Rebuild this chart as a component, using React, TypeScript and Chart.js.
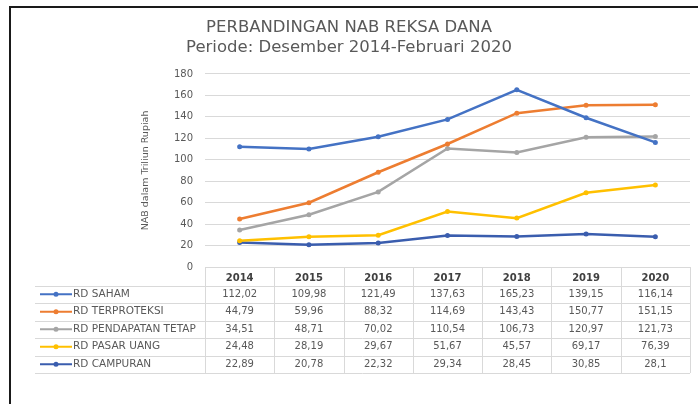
import React, { useEffect, useRef } from "react";
import { Chart, registerables } from "chart.js";

Chart.register(...registerables);

const years = ["2014", "2015", "2016", "2017", "2018", "2019", "2020"];
const seriesNames = ["RD SAHAM", "RD TERPROTEKSI", "RD PENDAPATAN TETAP", "RD PASAR UANG", "RD CAMPURAN"];
const saham = [112.02, 109.98, 121.49, 137.63, 165.23, 139.15, 116.14];
const terproteksi = [44.79, 59.96, 88.32, 114.69, 143.43, 150.77, 151.15];
const pendapatanTetap = [34.51, 48.71, 70.02, 110.54, 106.73, 120.97, 121.73];
const pasarUang = [24.48, 28.19, 29.67, 51.67, 45.57, 69.17, 76.39];
const campuran = [22.89, 20.78, 22.32, 29.34, 28.45, 30.85, 28.1];
const seriesValues = [saham, terproteksi, pendapatanTetap, pasarUang, campuran];
const seriesColors = ["#4472C4", "#ED7D31", "#A5A5A5", "#FFC000", "#3A5DAE"];
const titleLines = ["PERBANDINGAN NAB REKSA DANA", "Periode: Desember 2014-Februari 2020"];
const yTitle = "NAB dalam Triliun Rupiah";
const yMin = 0;
const yMax = 180;
const yStep = 20;

const FONT = "'DejaVu Sans', sans-serif";
const TEXT = "#595959";

const fmt = (v: number) => String(v).replace(".", ",");

const tablePlugin = {
  id: "dataTable",
  afterDraw(chart: any) {
    const ctx = chart.ctx;
    const x = chart.scales.x;
    const n = chart.data.labels.length;
    const step = (x.right - x.left) / n;
    const top = chart.chartArea.bottom;
    const headerH = 18.5;
    const rowH = 17.5;
    const legendLeft = 35;
    const dsets = chart.data.datasets;
    const bottom = top + headerH + rowH * dsets.length;
    ctx.save();
    ctx.strokeStyle = "#D9D9D9";
    ctx.lineWidth = 1;
    ctx.beginPath();
    for (let i = 0; i <= n; i++) {
      const xx = Math.round(x.left + step * i) + 0.5;
      ctx.moveTo(xx, top);
      ctx.lineTo(xx, bottom);
    }
    for (let r = 0; r <= dsets.length; r++) {
      const yy = Math.round(top + headerH + rowH * r) + 0.5;
      ctx.moveTo(legendLeft, yy);
      ctx.lineTo(x.right, yy);
    }
    ctx.stroke();

    ctx.textBaseline = "middle";
    dsets.forEach((ds: any, r: number) => {
      const cy = top + headerH + rowH * r + rowH / 2;
      ctx.strokeStyle = ds.borderColor;
      ctx.lineWidth = 2;
      ctx.beginPath();
      ctx.moveTo(40, cy);
      ctx.lineTo(72, cy);
      ctx.stroke();
      ctx.fillStyle = ds.borderColor;
      ctx.beginPath();
      ctx.arc(56, cy, 2.5, 0, Math.PI * 2);
      ctx.fill();
      ctx.fillStyle = TEXT;
      ctx.textAlign = "left";
      ctx.font = `10.5px ${FONT}`;
      ctx.fillText(ds.label, 73, cy);
      ctx.textAlign = "center";
      ctx.font = `10px ${FONT}`;
      ds.data.forEach((v: number, i: number) => {
        ctx.fillText(fmt(v), x.getPixelForValue(i), cy);
      });
    });
    ctx.restore();
  },
};

export default function App() {
  const ref = useRef<HTMLCanvasElement | null>(null);

  useEffect(() => {
    if (!ref.current) return;
    const chart = new Chart(ref.current, {
      type: "line",
      data: {
        labels: years,
        datasets: seriesNames.map((name, i) => ({
          label: name,
          data: seriesValues[i],
          borderColor: seriesColors[i],
          backgroundColor: seriesColors[i],
          borderWidth: 2.5,
          pointRadius: 2.5,
          pointHoverRadius: 2.5,
          pointBorderWidth: 0,
          tension: 0,
        })),
      },
      options: {
        responsive: false,
        animation: false,
        layout: { padding: { left: 8, right: 8, top: 0, bottom: 119 } },
        plugins: {
          legend: { display: false },
          tooltip: { enabled: false },
          title: {
            display: true,
            text: titleLines,
            color: TEXT,
            font: { family: FONT, size: 16.5, weight: "normal", lineHeight: 1.21 },
            padding: { top: 18, bottom: 16 },
          },
        },
        scales: {
          x: {
            offset: true,
            grid: { display: false, drawTicks: false },
            border: { display: false },
            ticks: { color: "#404040", font: { family: FONT, size: 10, weight: "bold" }, padding: 5, maxRotation: 0 },
            afterFit: (s: any) => {
              s.height = 18;
            },
          },
          y: {
            min: yMin,
            max: yMax,
            grid: { color: "#D9D9D9", drawTicks: false },
            border: { display: false },
            ticks: { stepSize: yStep, color: TEXT, font: { family: FONT, size: 10 }, padding: 12 },
            title: {
              display: true,
              text: yTitle,
              color: TEXT,
              font: { family: FONT, size: 9.5 },
              padding: { top: 132, bottom: 0 },
            },
            afterFit: (s: any) => {
              s.width = 197;
            },
          },
        },
      },
      plugins: [tablePlugin],
    });
    return () => chart.destroy();
  }, []);

  return (
    <div style={{ position: "absolute", left: 0, top: 0, width: 698, height: 404, overflow: "hidden", background: "#fff" }}>
      <canvas ref={ref} width={698} height={404} style={{ display: "block" }} />
      <div
        style={{
          position: "absolute",
          left: 9,
          top: 6,
          width: 720,
          height: 420,
          borderLeft: "2px solid #1a1a1a",
          borderTop: "2px solid #1a1a1a",
          pointerEvents: "none",
        }}
      />
    </div>
  );
}
